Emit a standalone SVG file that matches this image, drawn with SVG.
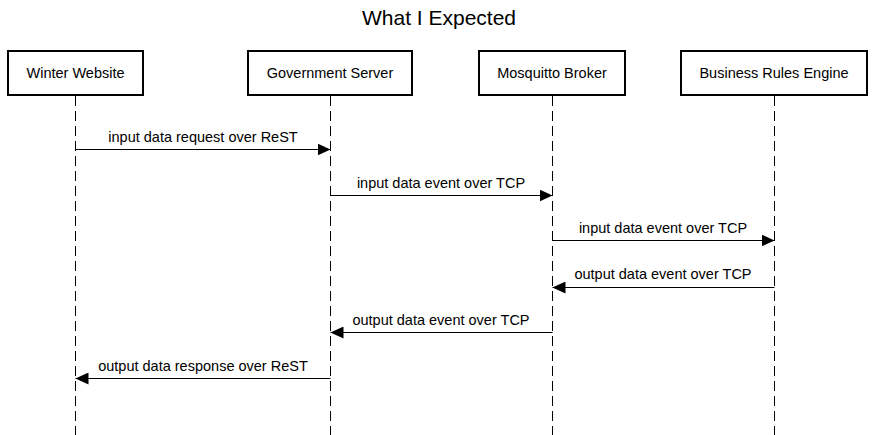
<svg xmlns="http://www.w3.org/2000/svg" width="876" height="435" viewBox="0 0 876 435">
<style>
text{font-family:"Liberation Sans",Arial,sans-serif;fill:#000}
.box{fill:#fff;stroke:#000;stroke-width:2}
.lbl{font-size:14.5px;text-anchor:middle}
.life{stroke:#000;stroke-width:1;stroke-dasharray:10,5}
.msg{stroke:#000;stroke-width:1;fill:none}
</style>
<defs>
<marker id="ah" markerWidth="13" markerHeight="12" refX="13" refY="6" orient="auto" markerUnits="userSpaceOnUse">
<path d="M0,0 L13,6 L0,12 Z" fill="#000"/>
</marker>
</defs>
<rect width="876" height="435" fill="#fff"/>
<text x="439" y="25" font-size="21" text-anchor="middle">What I Expected</text>
<g id="lifelines">
<line class="life" x1="75.5" y1="96" x2="75.5" y2="435"/>
<line class="life" x1="330.5" y1="96" x2="330.5" y2="435"/>
<line class="life" x1="552.5" y1="96" x2="552.5" y2="435"/>
<line class="life" x1="774.5" y1="96" x2="774.5" y2="435"/>
</g>
<g id="winter"><rect class="box" x="8" y="51" width="135" height="44"/><text class="lbl" x="75.5" y="78">Winter Website</text></g>
<g id="gov"><rect class="box" x="248" y="51" width="164" height="44"/><text class="lbl" x="330" y="78">Government Server</text></g>
<g id="broker"><rect class="box" x="479" y="51" width="146" height="44"/><text class="lbl" x="552" y="78">Mosquitto Broker</text></g>
<g id="bre"><rect class="box" x="681" y="51" width="186" height="44"/><text class="lbl" x="774" y="78">Business Rules Engine</text></g>
<g id="connectors">
<line class="msg" x1="75.5" y1="149.5" x2="330.5" y2="149.5" marker-end="url(#ah)"/>
<text class="lbl" x="203" y="142">input data request over ReST</text>
<line class="msg" x1="330.5" y1="195.5" x2="552.5" y2="195.5" marker-end="url(#ah)"/>
<text class="lbl" x="441" y="188">input data event over TCP</text>
<line class="msg" x1="552.5" y1="240.5" x2="774.5" y2="240.5" marker-end="url(#ah)"/>
<text class="lbl" x="663" y="233">input data event over TCP</text>
<line class="msg" x1="774.5" y1="287.5" x2="552.5" y2="287.5" marker-end="url(#ah)"/>
<text class="lbl" x="663" y="279">output data event over TCP</text>
<line class="msg" x1="552.5" y1="332.5" x2="330.5" y2="332.5" marker-end="url(#ah)"/>
<text class="lbl" x="441" y="325">output data event over TCP</text>
<line class="msg" x1="330.5" y1="378.5" x2="75.5" y2="378.5" marker-end="url(#ah)"/>
<text class="lbl" x="203" y="371">output data response over ReST</text>
</g>
</svg>
